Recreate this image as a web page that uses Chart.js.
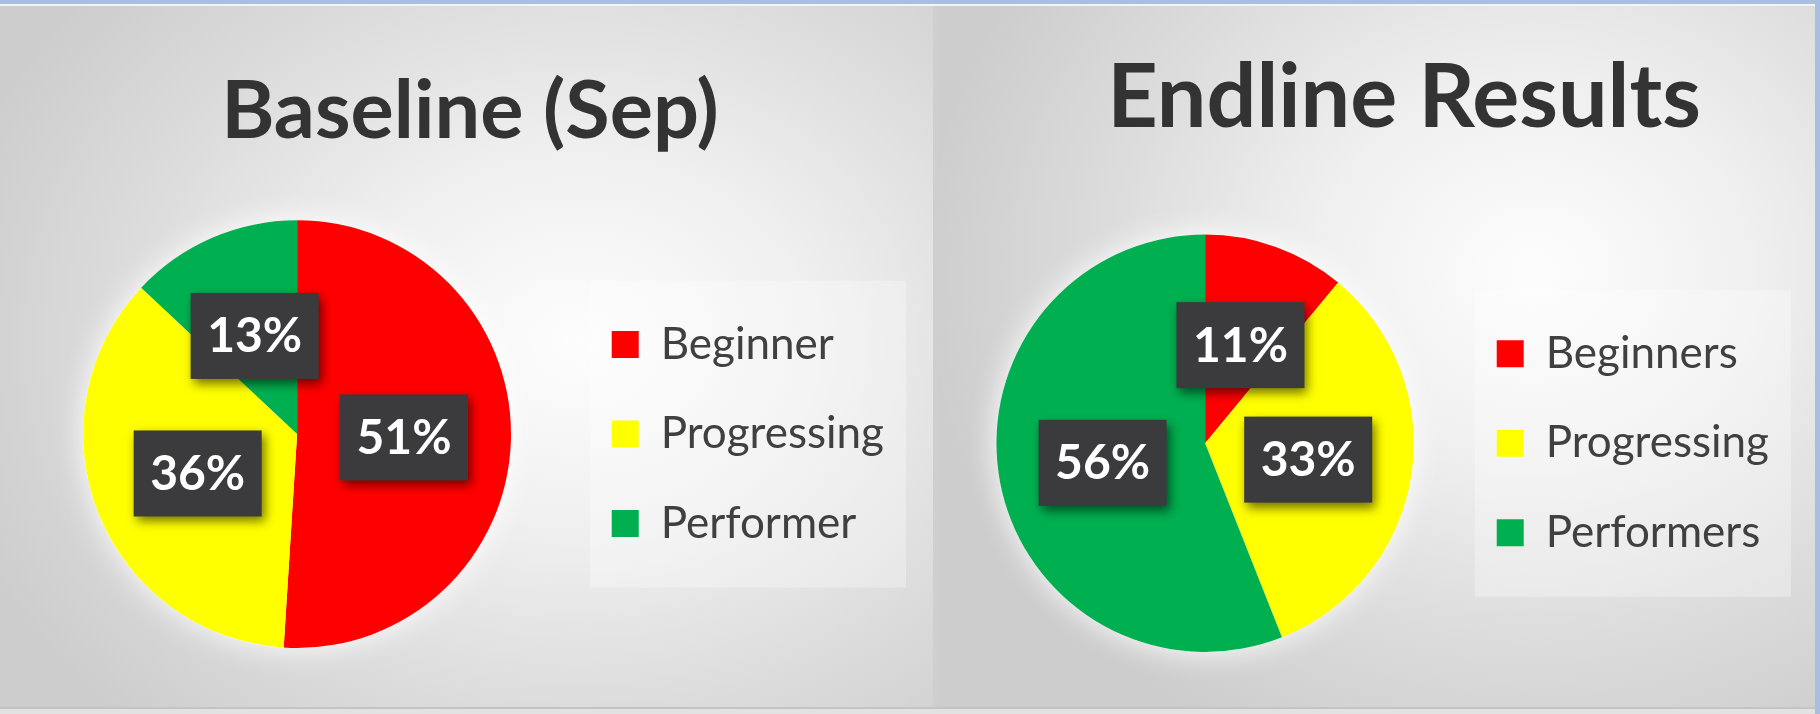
<!DOCTYPE html>
<html>
<head>
<meta charset="utf-8">
<script src="https://cdn.jsdelivr.net/npm/chart.js@4.4.1/dist/chart.umd.min.js"></script>
<style>
    html, body { margin: 0; padding: 0; width: 1820px; height: 714px; overflow: hidden; background: #cfcfcf; }
    .panel { position: absolute; top: 6px; height: 701px; }
    #panelLeft { left: 0; width: 933px; background: radial-gradient(ellipse 70% 75% at 62% 48%, #fdfdfd 0%, #f0f0f0 35%, #dcdcdc 70%, #cdcdcd 100%); }
    #panelRight { left: 937px; width: 878px; background: radial-gradient(ellipse 70% 75% at 68% 38%, #fdfdfd 0%, #f0f0f0 35%, #dcdcdc 70%, #cdcdcd 100%); }
    #topBar { position: absolute; left: 0; top: 0; width: 1820px; height: 4px; background: #a8bfdf; border-bottom: 2px solid #f4f4f4; z-index: 5; }
    #rightBar { position: absolute; right: 0; top: 0; width: 5px; height: 714px; background: #a8bfdf; z-index: 5; }
    #bottomBar { position: absolute; left: 0; top: 707px; width: 1815px; height: 7px; background: #e2e2e2; border-top: 2px solid #c4c4c4; z-index: 5; }
    canvas { position: absolute; top: 0; }
    #chart1 { left: 0; }
    #chart2 { left: 936px; }
</style>
</head>
<body>
<div id="panelLeft" class="panel"></div>
<div id="panelRight" class="panel"></div>
<canvas id="chart1" width="934" height="714"></canvas>
<canvas id="chart2" width="884" height="714"></canvas>
<div id="topBar"></div>
<div id="rightBar"></div>
<div id="bottomBar"></div>

<script>
const baselineCategories = ['Beginner', 'Progressing', 'Performer'];
const baselineValues = [51, 36, 13];

const endlineCategories = ['Beginners', 'Progressing', 'Performers'];
const endlineValues = [11, 33, 56];

const sliceColors = ['#FF0000', '#FFFF00', '#00B050'];

Chart.defaults.font.family = 'Lato, "Open Sans", sans-serif';
Chart.defaults.color = '#404040';

// moves the title sideways, the built in one is always centred on the canvas
const titleNudge = {
    id: 'titleNudge',
    afterLayout(chart, args, opts) {
        const t = chart.titleBlock;
        if (t && opts.dx) {
            t.left += opts.dx;
            t.right += opts.dx;
        }
    }
};

// faint white panel behind the legend items
const legendPanel = {
    id: 'legendPanel',
    beforeDraw(chart) {
        const lg = chart.legend;
        if (!lg || !lg.legendHitBoxes || !lg.legendHitBoxes.length) return;
        const boxes = lg.legendHitBoxes;
        let x1 = Infinity, y1 = Infinity, x2 = -Infinity, y2 = -Infinity;
        boxes.forEach(b => {
            x1 = Math.min(x1, b.left);
            y1 = Math.min(y1, b.top);
            x2 = Math.max(x2, b.left + b.width);
            y2 = Math.max(y2, b.top + b.height);
        });
        const ctx = chart.ctx;
        ctx.save();
        ctx.fillStyle = 'rgba(255,255,255,0.3)';
        ctx.fillRect(x1 - 22, y1 - 42, x2 - x1 + 44, y2 - y1 + 84);
        ctx.restore();
    }
};

// soft white glow round the pie
const pieGlow = {
    id: 'pieGlow',
    beforeDatasetsDraw(chart) {
        const arc = chart.getDatasetMeta(0).data[0];
        if (!arc) return;
        const ctx = chart.ctx;
        ctx.save();
        ctx.shadowColor = 'rgba(255,255,255,0.95)';
        ctx.shadowBlur = 30;
        ctx.fillStyle = '#ffffff';
        ctx.beginPath();
        ctx.arc(arc.x, arc.y, arc.outerRadius, 0, Math.PI * 2);
        ctx.fill();
        ctx.restore();
    }
};

// dark boxes with the percentage in each slice
const sliceLabels = {
    id: 'sliceLabels',
    afterDatasetsDraw(chart) {
        const ctx = chart.ctx;
        const meta = chart.getDatasetMeta(0);
        const values = chart.data.datasets[0].data;
        meta.data.forEach((arc, i) => {
            const pos = arc.tooltipPosition();
            const w = 128, h = 86;
            ctx.save();
            ctx.shadowColor = 'rgba(0,0,0,0.55)';
            ctx.shadowBlur = 10;
            ctx.shadowOffsetX = 3;
            ctx.shadowOffsetY = 5;
            ctx.fillStyle = '#3b3b3d';
            ctx.fillRect(pos.x - w / 2, pos.y - h / 2, w, h);
            ctx.restore();
            ctx.save();
            ctx.fillStyle = '#ffffff';
            ctx.font = 'bold 48px Lato, sans-serif';
            ctx.textAlign = 'center';
            ctx.textBaseline = 'middle';
            ctx.fillText(values[i] + '%', pos.x, pos.y + 1);
            ctx.restore();
        });
    }
};

function makePie(canvasId, title, labels, values, o) {
    return new Chart(document.getElementById(canvasId), {
        type: 'pie',
        data: {
            labels: labels,
            datasets: [{
                data: values,
                backgroundColor: sliceColors,
                borderWidth: 0
            }]
        },
        options: {
            responsive: false,
            animation: false,
            layout: {
                padding: { left: o.padLeft, right: o.padRight, top: 0, bottom: o.padBottom }
            },
            plugins: {
                title: {
                    display: true,
                    text: title,
                    color: '#333333',
                    font: { size: o.titleSize, weight: 'bold' },
                    padding: { top: o.titleTop, bottom: o.titleBottom }
                },
                legend: {
                    position: 'right',
                    fullSize: false,
                    labels: {
                        boxWidth: 27,
                        boxHeight: 27,
                        padding: 45.5,
                        color: '#404040',
                        font: { size: 44 }
                    }
                },
                tooltip: { enabled: false },
                titleNudge: { dx: o.titleDx }
            }
        },
        plugins: [titleNudge, legendPanel, pieGlow, sliceLabels]
    });
}

makePie('chart1', 'Baseline (Sep)', baselineCategories, baselineValues, {
    padLeft: 28, padRight: 40, padBottom: 66,
    titleSize: 81, titleTop: 63, titleBottom: 60, titleDx: 9
});

makePie('chart2', 'Endline Results', endlineCategories, endlineValues, {
    padLeft: 23, padRight: 41, padBottom: 62,
    titleSize: 88, titleTop: 46, titleBottom: 83, titleDx: 35
});
</script>
</body>
</html>
